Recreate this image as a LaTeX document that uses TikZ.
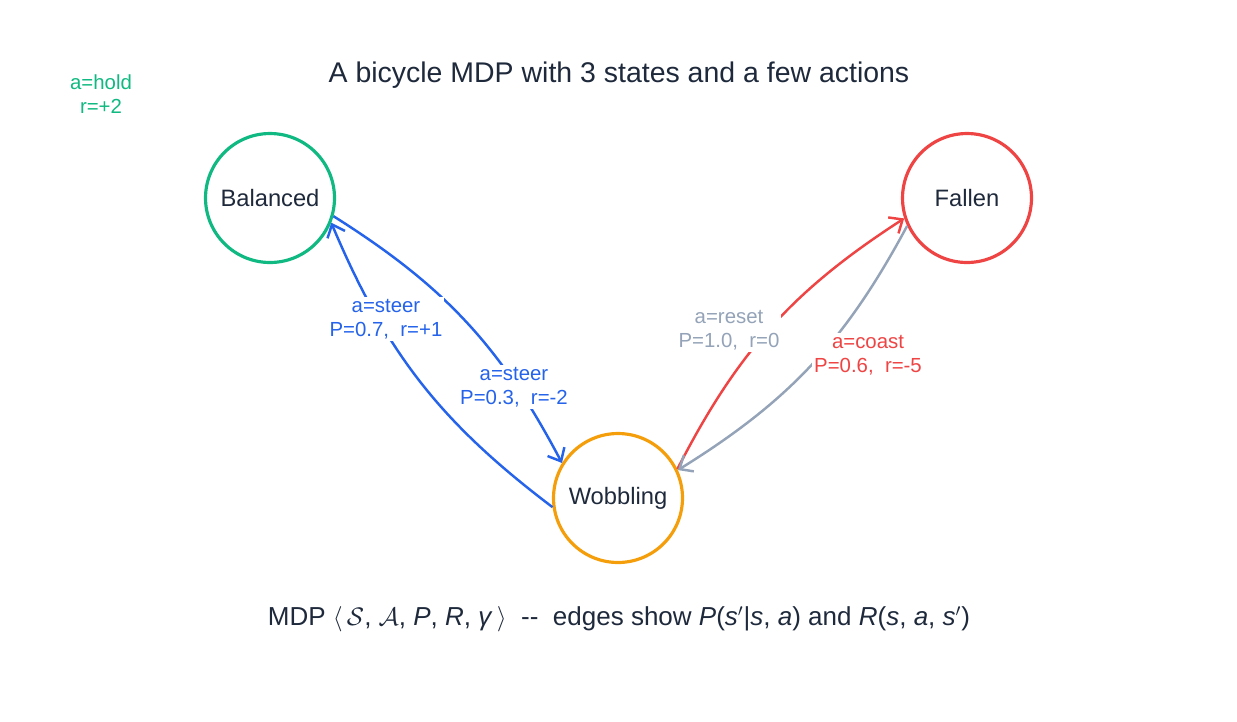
\documentclass[tikz,border=0pt]{standalone}
\usepackage{fontspec}
\setmainfont{Liberation Sans}
\usetikzlibrary{arrows.meta,positioning}
\definecolor{ink}{HTML}{1E293B}
\definecolor{cgreen}{HTML}{10B981}
\definecolor{cred}{HTML}{EF4444}
\definecolor{corange}{HTML}{F59E0B}
\definecolor{cblue}{HTML}{2563EB}
\definecolor{cgray}{HTML}{94A3B8}
\begin{document}
\begin{tikzpicture}
 	[x=0.02cm, y=-0.02cm, font=\fontsize{13.5}{16}\selectfont, text=ink,
 	% STYLES
 	% The state style is used to draw the circles of the MDP
 	state/.style={circle, draw, line width=1.8pt, minimum size=2.58cm, inner sep=0pt},
 	% The trans style is used for the transitions
 	trans/.style={-{Straight Barb[length=2.2mm,width=3.8mm]}, line width=1.4pt, bend left=15},
 	% The label style is used for the action texts
 	lab/.style={fill=white, inner sep=1pt, align=center, font=\fontsize{11.6}{13.8}\selectfont}]
 	\useasboundingbox (0,0) rectangle (1237,721);
 	
 	% title
 	\node (Title) at (619,75) {\fontsize{16.2}{19}\selectfont A bicycle MDP with 3 states and a few actions};
 	% states
 	\node [state, draw=cgreen] (Balanced) at (270,198) {Balanced};
 	\node [state, draw=cred] (Fallen) at (967,198) {Fallen};
 	\node [state, draw=corange] (Wobbling) at (618,498) {Wobbling};
 	% self reward
 	\node [lab, text=cgreen] (Hold) at (101,94) {a=hold\\r=+2};
 	% Draw the transitions
 	\draw [trans, cblue] (Balanced.-16) to (Wobbling.148);
 	\draw [trans, cblue] (Wobbling.188) to (Balanced.-22);
 	\draw [trans, cred] (Wobbling.26) to (Fallen.198);
 	\draw [trans, cgray] (Fallen.205) to (Wobbling.25);
 	% labels of the transitions
 	\node [lab, text=cblue] (SteerA) at (386,319) {a=steer\\P=0.7,\ \ r=+1};
 	\node [lab, text=cblue] (SteerB) at (514,387) {a=steer\\P=0.3,\ \ r=-2};
 	\node [lab, text=cgray] (Reset) at (729,330) {a=reset\\P=1.0,\ \ r=0};
 	\node [lab, text=cred] (Coast) at (868,355) {a=coast\\P=0.6,\ \ r=-5};
 	% caption
 	\node (Caption) at (619,619) {\fontsize{14.8}{17}\selectfont MDP $\langle\,\mathcal{S}$,\ $\mathcal{A}$,\ \textit{P},\ \textit{R},\ \textit{γ}\,$\rangle$\ \ {-}{-}\ \ edges show \textit{P}(\textit{s}$'$|\textit{s}, \textit{a}) and \textit{R}(\textit{s}, \textit{a}, \textit{s}$'$)};
 	
\end{tikzpicture}
\end{document}
